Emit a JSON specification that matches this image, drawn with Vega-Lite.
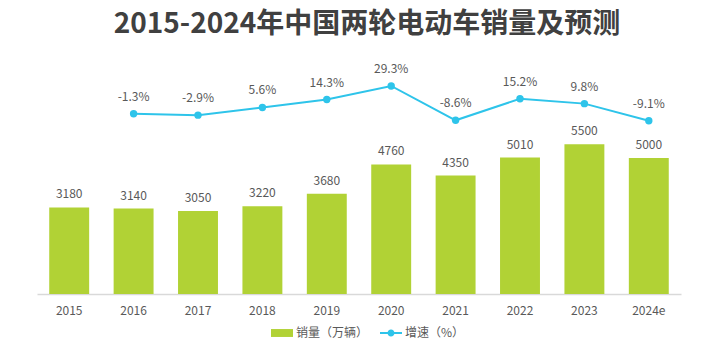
{
  "$schema": "https://vega.github.io/schema/vega-lite/v6.json",
  "width": 644,
  "height": 245,
  "autosize": {"type": "none"},
  "padding": {"left": 37, "top": 49, "right": 39, "bottom": 56},
  "background": "white",
  "title": {
    "text": "2015-2024年中国两轮电动车销量及预测",
    "fontSize": 28,
    "fontWeight": "bold",
    "color": "#404040",
    "font": "Noto Sans CJK SC",
    "anchor": "middle",
    "offset": -12,
    "dx": 8,
    "baseline": "alphabetic"
  },
  "config": {"view": {"stroke": null}, "font": "Noto Sans CJK SC"},
  "data": {
    "values": [
      {"year": "2015", "sales": 3180, "growth": null},
      {"year": "2016", "sales": 3140, "growth": -0.013},
      {"year": "2017", "sales": 3050, "growth": -0.029},
      {"year": "2018", "sales": 3220, "growth": 0.056},
      {"year": "2019", "sales": 3680, "growth": 0.143},
      {"year": "2020", "sales": 4760, "growth": 0.293},
      {"year": "2021", "sales": 4350, "growth": -0.086},
      {"year": "2022", "sales": 5010, "growth": 0.152},
      {"year": "2023", "sales": 5500, "growth": 0.098},
      {"year": "2024e", "sales": 5000, "growth": -0.091}
    ]
  },
  "encoding": {
    "x": {
      "field": "year",
      "type": "nominal",
      "sort": null,
      "scale": {"paddingInner": 0.38, "paddingOuter": 0.19},
      "axis": {
        "title": null,
        "labelAngle": 0,
        "labelFontSize": 12,
        "labelColor": "#595959",
        "labelPadding": 11,
        "ticks": false,
        "domainColor": "#D9D9D9",
        "domainWidth": 1.5,
        "grid": false
      }
    }
  },
  "layer": [
    {
      "mark": {"type": "bar"},
      "encoding": {
        "y": {"field": "sales", "type": "quantitative", "scale": {"domain": [0, 9000], "nice": false}, "axis": null},
        "color": {
          "datum": "销量（万辆）",
          "scale": {"domain": ["销量（万辆）", "增速（%）"], "range": ["#B1D235", "#2EC4EA"]},
          "legend": {
            "orient": "none",
            "legendX": 234,
            "legendY": 273,
            "direction": "horizontal",
            "title": null,
            "labelFontSize": 12,
            "labelColor": "#595959",
            "symbolSize": 484,
            "columnPadding": 11,
            "labelOffset": 3,
            "encode": {
              "symbols": {
                "update": {
                  "shape": {"signal": "datum.value === '销量（万辆）' ? 'M-1,-0.36H1V0.36H-1Z' : 'M-1,-0.09H-0.3V0.09H-1Z M0.3,-0.09H1V0.09H0.3Z M-0.32,0A0.32,0.32 0 1,1 0.32,0A0.32,0.32 0 1,1 -0.32,0Z'"},
                  "strokeWidth": {"value": 0},
                  "fill": {"scale": "color", "field": "value"},
                  "opacity": {"value": 1}
                }
              }
            }
          }
        }
      }
    },
    {
      "mark": {"type": "text", "dy": -13, "fontSize": 12, "color": "#595959", "baseline": "middle"},
      "encoding": {
        "y": {"field": "sales", "type": "quantitative", "scale": {"domain": [0, 9000], "nice": false}, "axis": null},
        "text": {"field": "sales", "type": "quantitative"}
      }
    },
    {
      "transform": [{"filter": "isValid(datum.growth)"}],
      "mark": {"type": "line", "strokeWidth": 2},
      "encoding": {
        "y": {"field": "growth", "type": "quantitative", "scale": {"domain": [-2.0, 0.7], "nice": false, "zero": false}, "axis": null},
        "color": {"datum": "增速（%）"}
      }
    },
    {
      "transform": [{"filter": "isValid(datum.growth)"}],
      "mark": {"type": "point", "filled": true, "size": 55, "opacity": 1},
      "encoding": {
        "y": {"field": "growth", "type": "quantitative", "scale": {"domain": [-2.0, 0.7], "nice": false, "zero": false}, "axis": null},
        "color": {"datum": "增速（%）"}
      }
    },
    {
      "transform": [
        {"filter": "isValid(datum.growth)"},
        {"calculate": "replace(format(datum.growth, '.1%'), '−', '-')", "as": "label"}
      ],
      "mark": {"type": "text", "dy": -17, "fontSize": 12, "color": "#595959", "baseline": "middle"},
      "encoding": {
        "y": {"field": "growth", "type": "quantitative", "scale": {"domain": [-2.0, 0.7], "nice": false, "zero": false}, "axis": null},
        "text": {"field": "label", "type": "nominal"}
      }
    }
  ],
  "resolve": {"scale": {"y": "independent"}}
}
